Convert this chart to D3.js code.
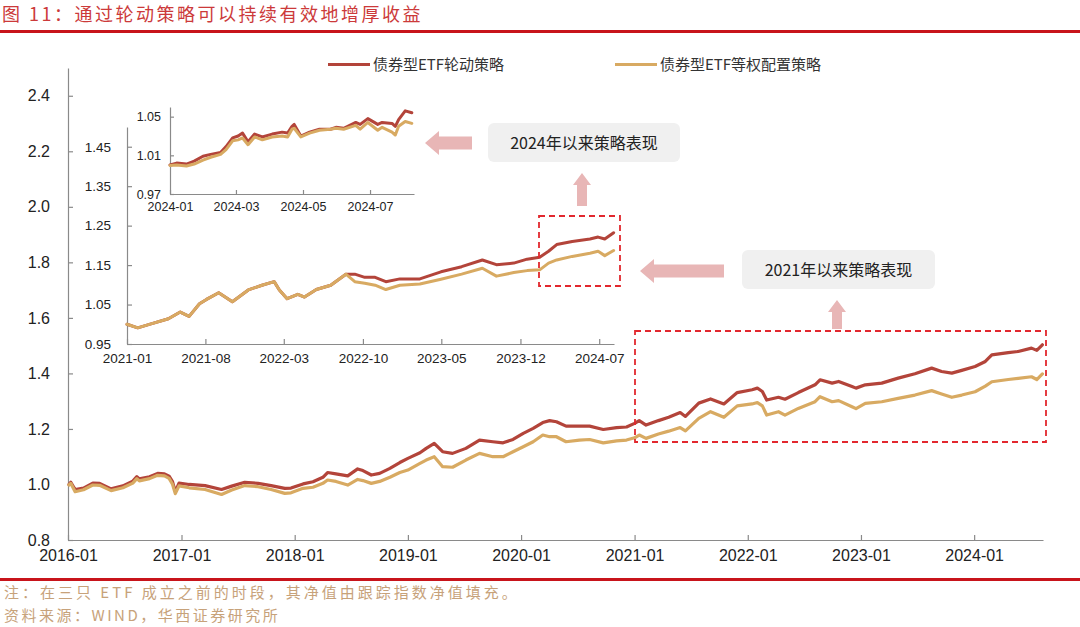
<!DOCTYPE html>
<html>
<head>
<meta charset="utf-8">
<script src="https://cdn.jsdelivr.net/npm/d3@7/dist/d3.min.js"></script>
<style>
  html, body { margin: 0; padding: 0; background: #fff; }
  svg { display: block; }
</style>
</head>
<body>
<svg id="chart" width="1080" height="627"></svg>
<script>
// ---------------- DATA ----------------
const seriesNames = ["债券型ETF轮动策略", "债券型ETF等权配置策略"];

// Main chart (2016-01 ~ 2024-08)
const mainDates = ["2016-01-04","2016-01-10","2016-01-24","2016-02-20","2016-03-21","2016-04-12","2016-05-19","2016-06-26","2016-07-28","2016-08-10","2016-08-18","2016-09-20","2016-10-16","2016-11-07","2016-11-22","2016-12-03","2016-12-12","2016-12-24","2017-01-26","2017-03-18","2017-05-10","2017-06-12","2017-07-24","2017-09-05","2017-10-17","2017-11-30","2017-12-20","2018-01-28","2018-03-01","2018-04-02","2018-04-17","2018-05-14","2018-06-21","2018-07-23","2018-08-09","2018-09-05","2018-10-02","2018-11-04","2018-12-06","2019-01-01","2019-02-09","2019-03-01","2019-03-27","2019-04-23","2019-05-25","2019-07-07","2019-08-20","2019-10-02","2019-11-04","2019-12-06","2020-01-08","2020-02-09","2020-03-11","2020-04-02","2020-04-24","2020-05-25","2020-07-07","2020-08-09","2020-09-22","2020-11-04","2020-12-06","2021-01-01","2021-01-16","2021-02-07","2021-03-19","2021-04-21","2021-05-28","2021-06-14","2021-07-27","2021-09-03","2021-10-16","2021-11-28","2022-01-15","2022-02-01","2022-02-17","2022-03-03","2022-04-10","2022-05-01","2022-06-13","2022-08-06","2022-08-22","2022-09-30","2022-10-21","2022-12-03","2022-12-16","2023-01-15","2023-03-09","2023-05-01","2023-06-24","2023-08-17","2023-09-18","2023-10-21","2023-11-22","2024-01-04","2024-02-06","2024-02-27","2024-04-20","2024-05-22","2024-07-04","2024-07-21","2024-08-08"];
const mainRotation = [1.000,1.008,0.982,0.987,1.005,1.004,0.984,0.995,1.012,1.028,1.020,1.028,1.040,1.038,1.030,1.010,0.974,1.005,1.000,0.996,0.982,0.994,1.008,1.004,0.996,0.986,0.987,1.002,1.010,1.026,1.043,1.038,1.031,1.056,1.050,1.034,1.040,1.058,1.079,1.094,1.114,1.130,1.148,1.118,1.112,1.130,1.160,1.154,1.150,1.162,1.184,1.202,1.223,1.230,1.226,1.210,1.210,1.210,1.198,1.205,1.207,1.220,1.230,1.214,1.230,1.242,1.259,1.245,1.293,1.308,1.290,1.331,1.341,1.347,1.335,1.304,1.314,1.307,1.331,1.359,1.377,1.365,1.371,1.353,1.347,1.359,1.365,1.383,1.399,1.419,1.407,1.401,1.411,1.425,1.443,1.467,1.475,1.479,1.491,1.483,1.503];
const mainEqual = [0.998,1.004,0.974,0.981,0.998,0.997,0.978,0.988,1.005,1.021,1.013,1.021,1.033,1.031,1.022,1.001,0.967,0.995,0.988,0.982,0.964,0.980,0.996,0.992,0.982,0.968,0.970,0.986,0.990,1.004,1.016,1.011,0.998,1.018,1.014,1.004,1.011,1.026,1.043,1.052,1.076,1.088,1.100,1.064,1.062,1.088,1.112,1.100,1.100,1.118,1.136,1.154,1.178,1.172,1.172,1.154,1.160,1.162,1.150,1.157,1.160,1.168,1.178,1.166,1.182,1.192,1.205,1.193,1.238,1.262,1.242,1.283,1.290,1.295,1.283,1.250,1.262,1.250,1.274,1.298,1.316,1.298,1.302,1.280,1.273,1.292,1.298,1.310,1.322,1.338,1.326,1.314,1.322,1.334,1.354,1.370,1.378,1.382,1.388,1.378,1.398];
const mainYTicks = [0.8, 1.0, 1.2, 1.4, 1.6, 1.8, 2.0, 2.2, 2.4];
const mainXTicks = ["2016-01","2017-01","2018-01","2019-01","2020-01","2021-01","2022-01","2023-01","2024-01"];

// Inset: since 2021
const inset1Dates = ["2021-01-01","2021-01-30","2021-03-07","2021-04-23","2021-05-25","2021-06-18","2021-07-16","2021-08-04","2021-09-06","2021-10-13","2021-11-25","2022-01-01","2022-02-03","2022-02-17","2022-03-10","2022-04-08","2022-04-26","2022-05-28","2022-07-06","2022-08-16","2022-09-09","2022-10-06","2022-11-03","2022-12-02","2023-01-09","2023-03-04","2023-04-30","2023-06-25","2023-08-20","2023-09-27","2023-11-13","2023-12-19","2024-01-22","2024-02-15","2024-03-08","2024-04-19","2024-06-06","2024-06-28","2024-07-16","2024-08-09"];
const inset1Rotation = [1.000,0.991,1.001,1.014,1.031,1.020,1.052,1.063,1.080,1.057,1.087,1.099,1.108,1.087,1.065,1.076,1.069,1.088,1.099,1.127,1.127,1.119,1.119,1.108,1.115,1.115,1.133,1.146,1.163,1.151,1.155,1.165,1.170,1.185,1.202,1.210,1.216,1.221,1.216,1.232];
const inset1Equal = [1.000,0.991,1.001,1.014,1.031,1.020,1.052,1.063,1.080,1.057,1.087,1.099,1.108,1.087,1.065,1.076,1.069,1.088,1.099,1.127,1.108,1.104,1.099,1.088,1.099,1.102,1.114,1.127,1.142,1.122,1.131,1.136,1.138,1.155,1.163,1.172,1.180,1.185,1.174,1.187];
const inset1YTicks = [0.95, 1.05, 1.15, 1.25, 1.35, 1.45];
const inset1XTicks = ["2021-01","2021-08","2022-03","2022-10","2023-05","2023-12","2024-07"];

// Inset: since 2024
const inset2Dates = ["2024-01-01","2024-01-07","2024-01-16","2024-01-23","2024-01-31","2024-02-07","2024-02-16","2024-02-21","2024-02-27","2024-03-03","2024-03-07","2024-03-12","2024-03-18","2024-03-25","2024-04-03","2024-04-12","2024-04-17","2024-04-21","2024-04-23","2024-04-29","2024-05-07","2024-05-16","2024-05-26","2024-05-31","2024-06-07","2024-06-18","2024-06-22","2024-06-29","2024-07-08","2024-07-12","2024-07-21","2024-07-24","2024-07-27","2024-08-02","2024-08-08"];
const inset2Rotation = [1.000,1.002,1.001,1.004,1.009,1.011,1.013,1.019,1.028,1.030,1.033,1.024,1.032,1.029,1.032,1.034,1.033,1.040,1.042,1.030,1.034,1.037,1.037,1.039,1.038,1.044,1.042,1.048,1.042,1.044,1.043,1.040,1.047,1.056,1.054];
const inset2Equal = [0.9995,1.000,0.999,1.001,1.005,1.008,1.011,1.016,1.025,1.026,1.028,1.021,1.029,1.026,1.029,1.030,1.029,1.037,1.038,1.029,1.033,1.036,1.037,1.038,1.037,1.041,1.037,1.044,1.036,1.039,1.034,1.031,1.040,1.045,1.043];
const inset2YTicks = [0.97, 1.01, 1.05];
const inset2XTicks = ["2024-01","2024-03","2024-05","2024-07"];

const titleText = "图 11：通过轮动策略可以持续有效地增厚收益";
const noteText = "注：在三只 ETF 成立之前的时段，其净值由跟踪指数净值填充。";
const sourceText = "资料来源：WIND，华西证券研究所";
const callout2024 = "2024年以来策略表现";
const callout2021 = "2021年以来策略表现";

// ---------------- STYLE ----------------
const RED = "#b3443a", GOLD = "#d8aa62";
const AXIS = "#8a8a8a";
const NUMFONT = "'Liberation Sans', Arial, sans-serif";
const CJKFONT = "'Noto Sans CJK SC', sans-serif";
const ARROW = "#e8b6b6";
const DASH = "#e2282e";

const parseDay = d3.timeParse("%Y-%m-%d");
const parseMonth = d3.timeParse("%Y-%m");
const fmtMonth = d3.timeFormat("%Y-%m");

const svg = d3.select("#chart");

// Title + rules
svg.append("text").attr("x", 2).attr("y", 21)
  .attr("font-family", CJKFONT).attr("font-size", 18).attr("letter-spacing", 2.5)
  .attr("fill", "#cc3a3a").text(titleText);
svg.append("rect").attr("x", 0).attr("y", 30).attr("width", 1080).attr("height", 3).attr("fill", "#c8141b");
svg.append("rect").attr("x", 0).attr("y", 578).attr("width", 1080).attr("height", 3).attr("fill", "#c8141b");
svg.append("text").attr("x", 4).attr("y", 598)
  .attr("font-family", CJKFONT).attr("font-size", 15).attr("letter-spacing", 3)
  .attr("fill", "#c7a27a").text(noteText);
svg.append("text").attr("x", 4).attr("y", 621)
  .attr("font-family", CJKFONT).attr("font-size", 15).attr("letter-spacing", 2.5)
  .attr("fill", "#c7a27a").text(sourceText);

// Generic panel drawing
function panel(cfg) {
  const x = d3.scaleTime().domain(cfg.xDomain).range([cfg.x0, cfg.x1]);
  const y = d3.scaleLinear().domain(cfg.yDomain).range([cfg.y0, cfg.y1]);
  const g = svg.append("g");

  const xAxis = d3.axisBottom(x).tickValues(cfg.xTicks.map(parseMonth))
    .tickFormat(fmtMonth).tickSizeInner(-cfg.tick).tickSizeOuter(0).tickPadding(cfg.xPad);
  const gx = g.append("g").attr("transform", `translate(0,${cfg.y0})`).call(xAxis);
  const yAxis = d3.axisLeft(y).tickValues(cfg.yTicks)
    .tickFormat(d3.format(cfg.yFmt)).tickSizeInner(-cfg.tick).tickSizeOuter(0).tickPadding(cfg.yPad);
  const gy = g.append("g").attr("transform", `translate(${cfg.x0},0)`).call(yAxis);
  [gx, gy].forEach(a => {
    a.select(".domain").attr("stroke", AXIS).attr("stroke-width", 1.2);
    a.selectAll(".tick line").attr("stroke", AXIS).attr("stroke-width", 1.2);
    a.selectAll("text").attr("fill", "#222").attr("font-family", NUMFONT).attr("font-size", cfg.font);
  });

  const line = d3.line().x(d => x(d[0])).y(d => y(d[1])).curve(d3.curveLinear);
  const dates = cfg.dates.map(parseDay);
  [[cfg.rot, RED], [cfg.eq, GOLD]].forEach(([vals, col]) => {
    g.append("path").datum(dates.map((d, i) => [d, vals[i]]))
      .attr("fill", "none").attr("stroke", col).attr("stroke-width", cfg.lw)
      .attr("stroke-linejoin", "round").attr("stroke-linecap", "round").attr("d", line);
  });
  return { x, y };
}

// Main chart
panel({
  xDomain: [parseDay("2016-01-01"), parseDay("2024-08-10")], x0: 68, x1: 1043,
  yDomain: [0.8, 2.5], y0: 540, y1: 68,
  xTicks: mainXTicks, yTicks: mainYTicks, yFmt: ".1f",
  dates: mainDates, rot: mainRotation, eq: mainEqual,
  tick: 5, xPad: 10, yPad: 18, font: 16, lw: 3.2
});

// Inset since 2021
panel({
  xDomain: [parseDay("2021-01-01"), parseDay("2024-08-10")], x0: 127, x1: 614,
  yDomain: [0.95, 1.50], y0: 344, y1: 127,
  xTicks: inset1XTicks, yTicks: inset1YTicks, yFmt: ".2f",
  dates: inset1Dates, rot: inset1Rotation, eq: inset1Equal,
  tick: 5, xPad: 9, yPad: 16, font: 13.5, lw: 3
});

// Inset since 2024
panel({
  xDomain: [parseDay("2024-01-01"), parseDay("2024-08-10")], x0: 170, x1: 414,
  yDomain: [0.97, 1.06], y0: 194, y1: 107,
  xTicks: inset2XTicks, yTicks: inset2YTicks, yFmt: ".2f",
  dates: inset2Dates, rot: inset2Rotation, eq: inset2Equal,
  tick: 4, xPad: 8, yPad: 9, font: 12.5, lw: 3
});

// Legend
const legend = svg.append("g").attr("font-family", CJKFONT).attr("font-size", 15).attr("fill", "#333");
[[328, RED, seriesNames[0]], [615, GOLD, seriesNames[1]]].forEach(([lx, col, name]) => {
  legend.append("line").attr("x1", lx).attr("x2", lx + 42).attr("y1", 64.5).attr("y2", 64.5)
    .attr("stroke", col).attr("stroke-width", 3.2);
  legend.append("text").attr("x", lx + 45).attr("y", 70).text(name);
});

// Dashed highlight boxes
[[539, 216, 81, 70], [635, 331, 411, 111]].forEach(([bx, by, bw, bh]) => {
  svg.append("rect").attr("x", bx).attr("y", by).attr("width", bw).attr("height", bh)
    .attr("fill", "none").attr("stroke", DASH).attr("stroke-width", 1.8).attr("stroke-dasharray", "6,4");
});

// Callout boxes
[[488, 123, 192, 39, callout2024], [742, 250, 193, 39, callout2021]].forEach(([bx, by, bw, bh, t]) => {
  svg.append("rect").attr("x", bx).attr("y", by).attr("width", bw).attr("height", bh)
    .attr("rx", 6).attr("fill", "#f0f0f0");
  svg.append("text").attr("x", bx + bw / 2).attr("y", by + bh / 2 + 6)
    .attr("text-anchor", "middle").attr("font-family", CJKFONT).attr("font-size", 16)
    .attr("fill", "#222").text(t);
});

// Arrows
function leftArrow(tipX, cy, endX) {
  const hb = tipX + 14;
  return `M${tipX},${cy} L${hb},${cy - 12} L${hb},${cy - 6.5} L${endX},${cy - 6.5} L${endX},${cy + 6.5} L${hb},${cy + 6.5} L${hb},${cy + 12} Z`;
}
function upArrow(cx, tipY, endY) {
  const hb = tipY + 12;
  return `M${cx},${tipY} L${cx + 9},${hb} L${cx + 5},${hb} L${cx + 5},${endY} L${cx - 5},${endY} L${cx - 5},${hb} L${cx - 9},${hb} Z`;
}
svg.append("path").attr("d", leftArrow(425, 143, 472)).attr("fill", ARROW);
svg.append("path").attr("d", leftArrow(640, 271, 724)).attr("fill", ARROW);
svg.append("path").attr("d", upArrow(582, 173, 206)).attr("fill", ARROW);
svg.append("path").attr("d", upArrow(837, 300, 329)).attr("fill", ARROW);
</script>
</body>
</html>
